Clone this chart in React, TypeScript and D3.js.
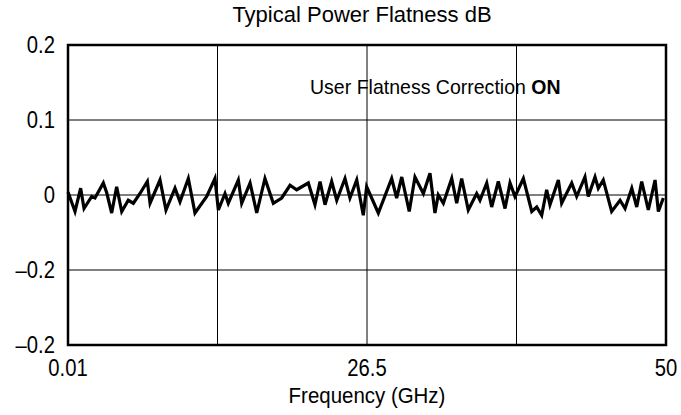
import React from "react";
import * as d3 from "d3";

const freqs = [0.01,0.63,1.13,1.43,2.11,2.40,3.14,3.44,3.88,4.32,4.77,5.35,5.80,6.39,7.04,7.28,8.16,8.69,9.49,9.93,10.67,11.26,12.30,13.03,13.33,13.92,14.21,15.10,15.40,16.14,16.73,17.46,18.20,18.94,19.68,20.27,21.30,21.89,22.34,22.78,23.37,23.82,24.55,24.99,25.59,26.17,26.47,27.39,28.44,28.83,29.23,29.82,30.27,30.93,31.45,31.84,32.10,32.50,33.16,33.55,33.94,34.46,35.12,35.38,35.91,36.30,36.82,37.35,37.74,38.13,38.79,39.45,39.84,40.23,40.62,40.88,41.54,41.80,42.59,42.98,43.63,43.89,44.42,44.68,45.07,45.73,46.39,46.78,47.31,47.70,48.09,48.61,49.14,49.40,49.79];
const flatness = [0.004,-0.022,0.009,-0.018,-0.002,-0.004,0.016,0.003,-0.024,0.011,-0.022,-0.007,-0.011,0.002,0.018,-0.011,0.020,-0.020,0.009,-0.009,0.022,-0.024,-0.002,0.022,-0.020,0.002,-0.011,0.020,-0.011,0.016,-0.024,0.022,-0.011,-0.004,0.013,0.007,0.016,-0.013,0.018,-0.013,0.018,-0.007,0.022,-0.004,0.020,-0.027,0.011,-0.024,0.022,-0.004,0.024,-0.022,0.024,0.002,0.029,-0.024,0.000,-0.011,0.022,-0.011,0.022,-0.020,0.002,-0.007,0.016,-0.016,0.018,-0.018,0.016,-0.002,0.022,-0.022,-0.016,-0.027,0.007,-0.013,0.020,-0.011,0.016,-0.002,0.024,-0.002,0.024,0.009,0.020,-0.022,-0.007,-0.018,0.009,-0.016,0.018,-0.020,0.020,-0.022,-0.004];

const yTickValues = [0.2, 0.1, 0, -0.1, -0.2];
const yTickLabels = ["0.2", "0.1", "0", "\u20130.2", "\u20130.2"];
const xTickValues = [0.01, 26.5, 50];
const xTickLabels = ["0.01", "26.5", "50"];

const W = 681, H = 415;
const L = 68, R = 666, T = 45, B = 345;
const FONT = "'Liberation Sans', Arial, sans-serif";

function CText({ x, y, size, sx = 0.9, anchor = "start", dy, weight, children }: any) {
  return (
    <g transform={`translate(${x},${y}) scale(${sx},1)`}>
      <text x={0} y={0} dy={dy} textAnchor={anchor} fontSize={size} fontWeight={weight}>{children}</text>
    </g>
  );
}

export default function App() {
  const x = d3.scaleLinear().domain([0.01, 26.5, 50]).range([L, (L + R) / 2, R]);
  const y = d3.scaleLinear().domain([-0.2, 0.2]).range([B, T]);
  const gridX = [0.25, 0.5, 0.75].map((p) => x.invert(L + p * (R - L)));
  const line = d3.line<number>().x((_, i) => x(freqs[i])).y((d) => y(d));
  return (
    <svg width={W} height={H} style={{ position: "absolute", left: 0, top: 0, background: "#fff" }} fontFamily={FONT}>
      <rect x={0} y={0} width={W} height={H} fill="#fff" />
      {yTickValues.slice(1, -1).map((v) => (
        <line key={"gy" + v} x1={L} x2={R} y1={y(v)} y2={y(v)} stroke="#000" strokeWidth={1} />
      ))}
      {gridX.map((v, i) => (
        <line key={"gx" + i} x1={x(v)} x2={x(v)} y1={T} y2={B} stroke="#000" strokeWidth={1} />
      ))}
      <path d={line(flatness) || ""} fill="none" stroke="#000" strokeWidth={3.2} strokeLinejoin="miter" strokeMiterlimit={4} />
      <rect x={L} y={T} width={R - L} height={B - T} fill="none" stroke="#000" strokeWidth={2.5} />
      {yTickValues.map((v, i) => (
        <CText key={"yl" + i} x={55} y={y(v)} dy="0.36em" anchor="end" size={23} sx={0.88}>{yTickLabels[i]}</CText>
      ))}
      {xTickValues.map((v, i) => (
        <CText key={"xl" + i} x={x(v)} y={376} anchor="middle" size={23} sx={0.88}>{xTickLabels[i]}</CText>
      ))}
      <CText x={(L + R) / 2} y={403} anchor="middle" size={22} sx={0.93}>Frequency (GHz)</CText>
      <CText x={362} y={22} anchor="middle" size={22} sx={1}>Typical Power Flatness dB</CText>
      <g transform="translate(310,94) scale(0.93,1)">
        <text x={0} y={0} fontSize={21}>User Flatness Correction <tspan fontWeight="bold">ON</tspan></text>
      </g>
    </svg>
  );
}
